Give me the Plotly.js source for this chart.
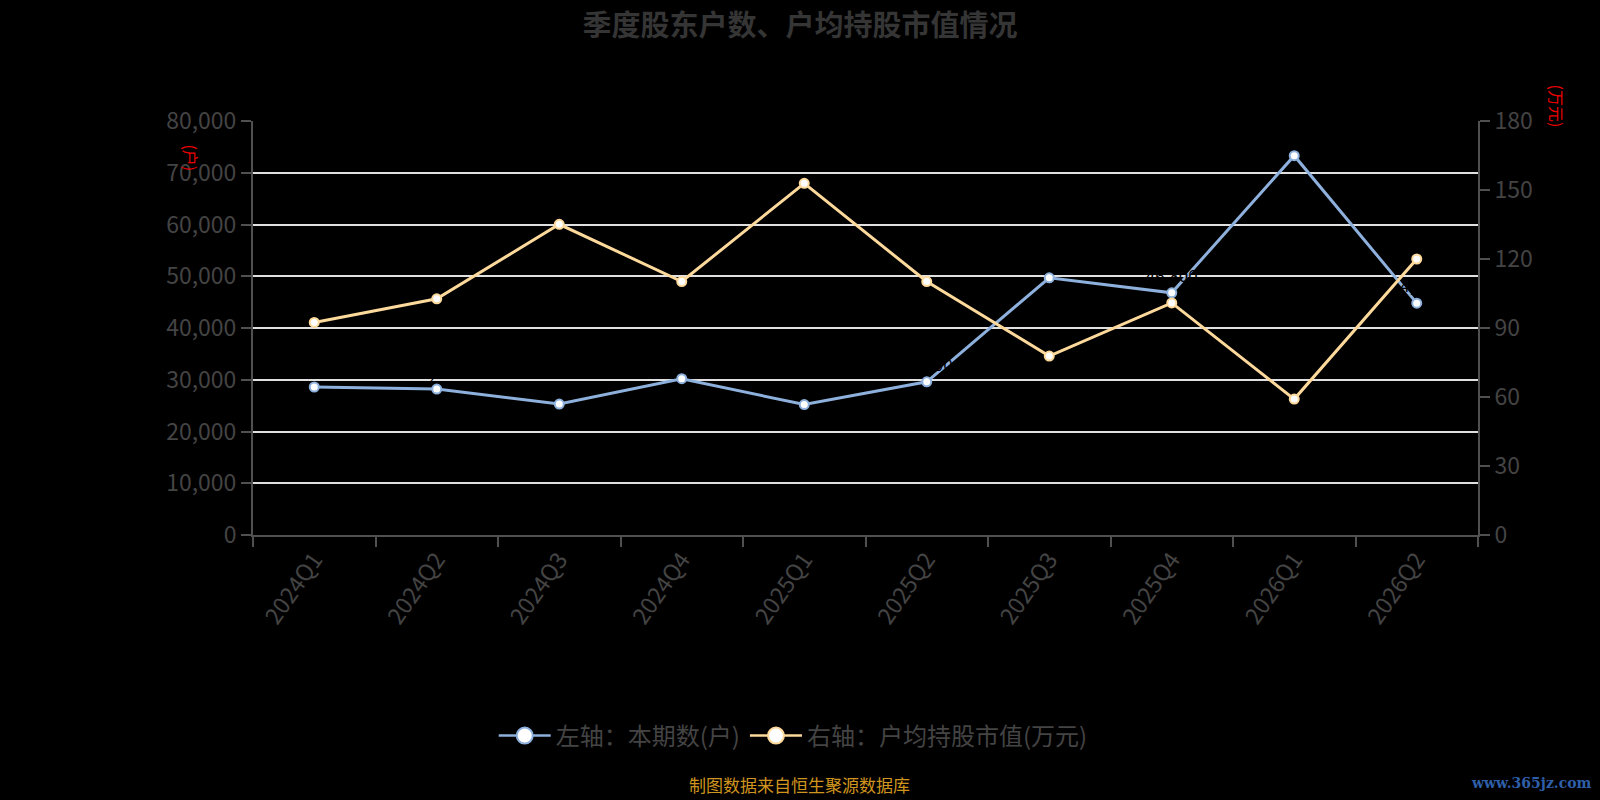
<!DOCTYPE html>
<html>
<head>
<meta charset="utf-8">
<script src="https://cdn.plot.ly/plotly-3.0.1.min.js"></script>
<style>html,body{margin:0;padding:0;background:#000;}#chart{width:1600px;height:800px;}</style>
</head>
<body>
<div id="chart"></div>
<script>
const quarters = ["2024Q1","2024Q2","2024Q3","2024Q4","2025Q1","2025Q2","2025Q3","2025Q4","2026Q1","2026Q2"];
const holders = [28600, 28200, 25300, 30200, 25200, 29600, 49700, 46800, 73300, 44800];
const avgValue = [92.4, 102.7, 135.1, 110.2, 152.9, 110.2, 77.8, 100.9, 59.1, 120.0];
const leftTicks = [0, 10000, 20000, 30000, 40000, 50000, 60000, 70000, 80000];
const rightTicks = [0, 30, 60, 90, 120, 150, 180];
const seriesNames = ["左轴：本期数(户)", "右轴：户均持股市值(万元)"];
const colors = ["#8eb0dc", "#fdd99b"];

const font = "'Noto Sans CJK SC', 'Noto Sans', sans-serif";
const fmt = v => v.toLocaleString('en-US');

const traces = [
  {
    x: quarters, y: holders, name: seriesNames[0], type: 'scatter', mode: 'lines+markers+text',
    yaxis: 'y', showlegend: false,
    line: {color: colors[0], width: 3},
    marker: {color: '#fff', size: 9, line: {color: colors[0], width: 2}},
    text: holders.map(fmt), textposition: 'top center',
    textfont: {color: '#000', size: 17, family: font}, cliponaxis: false
  },
  {
    x: quarters, y: avgValue, name: seriesNames[1], type: 'scatter', mode: 'lines+markers',
    yaxis: 'y2', showlegend: false,
    line: {color: colors[1], width: 3},
    marker: {color: '#fff', size: 9, line: {color: colors[1], width: 2}}, cliponaxis: false
  },
  {
    x: [null], y: [null], name: seriesNames[0], type: 'scatter', mode: 'lines+markers',
    line: {color: colors[0], width: 2.5},
    marker: {color: '#fff', size: 22, line: {color: colors[0], width: 2}}
  },
  {
    x: [null], y: [null], name: seriesNames[1], type: 'scatter', mode: 'lines+markers', yaxis: 'y2',
    line: {color: colors[1], width: 2.5},
    marker: {color: '#fff', size: 22, line: {color: colors[1], width: 2}}
  }
];

const tickFont = {size: 23, color: '#444', family: font};

const layout = {
  width: 1600, height: 800,
  paper_bgcolor: '#000', plot_bgcolor: '#000',
  margin: {l: 253, r: 122, t: 121, b: 265},
  font: {family: font, color: '#444'},
  title: {text: '季度股东户数、户均持股市值情况', x: 0.5, xanchor: 'center', y: 0.968, yanchor: 'middle',
          font: {size: 29, color: '#353535', family: font, weight: 'bold'}},
  xaxis: {
    type: 'category', range: [-0.5, 9.5], tickson: 'boundaries',
    showline: true, linecolor: '#505050', linewidth: 2,
    ticks: 'outside', ticklen: 10, tickcolor: '#505050', tickwidth: 2,
    showgrid: false, tickangle: -55,
    tickfont: {size: 23, color: '#444', family: font}, automargin: false
  },
  yaxis: {
    range: [0, 80000], tickvals: leftTicks, ticktext: leftTicks.map(fmt),
    showline: true, linecolor: '#505050', linewidth: 2,
    ticks: 'outside', ticklen: 10, tickcolor: '#505050', tickwidth: 2,
    showgrid: true, gridcolor: '#e0e0e0', gridwidth: 2, zeroline: false,
    tickfont: tickFont, automargin: false
  },
  yaxis2: {
    overlaying: 'y', side: 'right', range: [0, 180], tickvals: rightTicks,
    showline: true, linecolor: '#505050', linewidth: 2,
    ticks: 'outside', ticklen: 10, tickcolor: '#505050', tickwidth: 2,
    showgrid: false, zeroline: false,
    tickfont: tickFont, automargin: false
  },
  showlegend: true,
  legend: {
    orientation: 'h', x: 0.441, xanchor: 'center', y: -0.4855, yanchor: 'middle',
    font: {size: 24, color: '#444', family: font}, itemsizing: 'trace', itemwidth: 52,
    bgcolor: 'rgba(0,0,0,0)'
  },
  annotations: [
    {text: '(户)', xref: 'paper', yref: 'paper', x: -0.0506, y: 0.912, textangle: 90, showarrow: false,
     font: {size: 16, color: '#e00', family: font}, xanchor: 'center', yanchor: 'middle'},
    {text: '(万元)', xref: 'paper', yref: 'paper', x: 1.0645, y: 1.0374, textangle: 90, showarrow: false,
     font: {size: 16, color: '#e00', family: font}, xanchor: 'center', yanchor: 'middle'},
    {text: '制图数据来自恒生聚源数据库', xref: 'paper', yref: 'paper', x: 0.4465, y: -0.603, showarrow: false,
     font: {size: 17, color: '#d0951e', family: font}, xanchor: 'center', yanchor: 'middle'},
    {text: '<b>www.365jz.com</b>', xref: 'paper', yref: 'paper', x: 1.0947, y: -0.599, showarrow: false,
     font: {size: 14, color: '#2f5fa8', family: 'DejaVu Serif, serif'}, xanchor: 'right', yanchor: 'middle'}
  ]
};

Plotly.newPlot('chart', traces, layout, {displayModeBar: false, staticPlot: true});
</script>
</body>
</html>
